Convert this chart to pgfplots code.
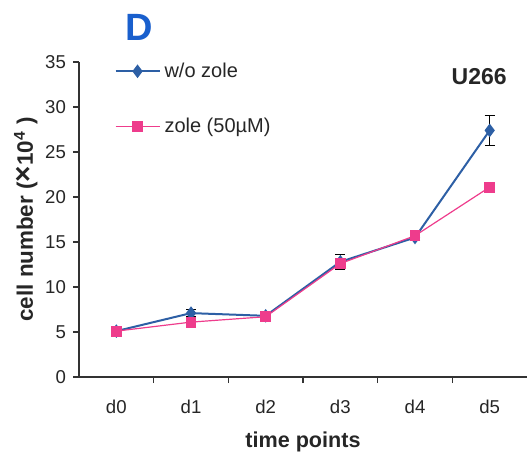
\documentclass[border=0pt]{standalone}
\usepackage{pgfplots}
\pgfplotsset{compat=1.18}
\usepackage{fontspec}
\setmainfont{Liberation Sans}
\definecolor{ublue}{RGB}{45,95,165}
\definecolor{upink}{RGB}{238,60,140}
\definecolor{dblue}{RGB}{25,95,205}
\begin{document}
\begin{tikzpicture}
\begin{axis}[
  scale only axis, width=224pt, height=157.5pt,
  xmin=-0.5, xmax=5.5, ymin=0, ymax=35,
  axis x line*=bottom, axis y line*=left,
  axis line style={black!80, line width=0.6pt},
  xtick={0,...,5}, xticklabels={d0,d1,d2,d3,d4,d5},
  major x tick style={draw=none},
  minor xtick={0.5,1.5,2.5,3.5,4.5},
  minor x tick style={black!80, line width=0.6pt},
  minor tick length=3pt,
  ytick={0,5,...,35},
  major tick length=3pt,
  tick align=outside,
  y tick style={black!80, line width=0.6pt},
  xticklabel style={yshift=-5pt},
  ticklabel style={font=\fontsize{9.3}{11}\selectfont, text=black!85},
  /pgf/number format/assume math mode=true,
  xlabel={\textbf{time points}},
  ylabel={\textbf{cell number (\scalebox{1.25}{\texttimes}10\textsuperscript{4} )}},
  label style={font=\fontsize{10.8}{12}\selectfont\bfseries, text=black!85},
  xlabel style={yshift=-2pt},
  ylabel style={yshift=-3pt, font=\fontsize{11.2}{12}\selectfont\bfseries},
  legend style={draw=none, fill=none, at={(0.065,1.025)}, anchor=north west,
    font=\fontsize{10}{12}\selectfont, text=black!85, row sep=15pt,
    /tikz/every even column/.append style={column sep=2pt}},
  legend cell align=left,
  legend image code/.code={\draw[mark repeat=2,mark phase=2] plot coordinates {(0pt,0pt) (11pt,0pt) (22pt,0pt)};},
  clip=false,
]
\addplot[ublue, line width=1pt, mark=diamond*, mark size=2.6pt, mark options={fill=ublue, draw=ublue},
  error bars/.cd, y dir=both, y explicit, error bar style={black, line width=0.6pt}, error mark options={black, rotate=90, mark size=2.5pt, line width=0.6pt}]
coordinates {
 (0,5.1) +- (0,0.2)
 (1,7.1) +- (0,0.4)
 (2,6.8) +- (0,0.2)
 (3,12.8) +- (0,0.8)
 (4,15.5) +- (0,0.3)
 (5,27.4) +- (0,1.7)
};
\addlegendentry{w/o zole}
\addplot[upink, line width=0.6pt, mark=square*, mark size=2.4pt, mark options={fill=upink, draw=upink},
  error bars/.cd, y dir=both, y explicit, error bar style={black, line width=0.6pt}, error mark options={black, rotate=90, mark size=2.2pt, line width=0.6pt}]
coordinates {
 (0,5.1) +- (0,0.2)
 (1,6.1) +- (0,0.2)
 (2,6.7) +- (0,0.2)
 (3,12.6) +- (0,0.4)
 (4,15.7) +- (0,0.3)
 (5,21.1) +- (0,0.5)
};
\addlegendentry{zole (50\textmu M)}
\node[font=\fontsize{11.5}{13}\selectfont\bfseries, text=black!85, anchor=center] at (axis cs:4.86,33.4) {U266};
\node[font=\fontsize{19}{20}\selectfont\bfseries, text=dblue, anchor=center] at (axis cs:0.3,38.8) {D};
\end{axis}
\pgfresetboundingbox
\path[use as bounding box] ([shift={(-39.5pt,-39.5pt)}]current axis.south west) rectangle ([shift={(1pt,31pt)}]current axis.north east);
\end{tikzpicture}
\end{document}
